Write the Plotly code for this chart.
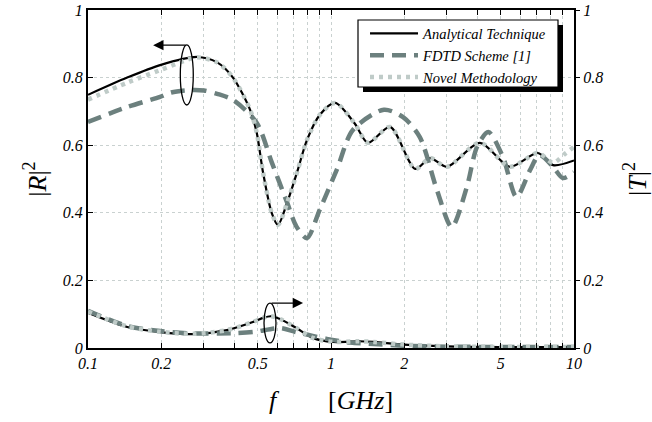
import math
import plotly.graph_objects as go

# ---------------- data ----------------
f_ana_R = [0.1, 0.145, 0.198, 0.281, 0.34, 0.395, 0.465, 0.495, 0.525, 0.57, 0.605, 0.66, 0.73, 0.796, 0.9, 1.04, 1.25, 1.42, 1.75, 2.22, 2.56, 3.0, 4.1, 5.45, 7.1, 8.2, 10.0]
R_ana = [0.749, 0.80, 0.837, 0.861, 0.845, 0.80, 0.704, 0.636, 0.52, 0.40, 0.364, 0.43, 0.527, 0.615, 0.69, 0.725, 0.665, 0.607, 0.654, 0.53, 0.562, 0.536, 0.607, 0.536, 0.577, 0.541, 0.555]

f_nov_R = [0.1, 0.145, 0.198, 0.25, 0.281, 0.34, 0.395, 0.465, 0.495, 0.525, 0.57, 0.605, 0.66, 0.73, 0.796, 0.9, 1.04, 1.25, 1.42, 1.75, 2.22, 2.56, 3.0, 4.1, 5.45, 7.1, 8.2, 9.2, 10.0]
R_nov = [0.735, 0.785, 0.822, 0.85, 0.86, 0.845, 0.80, 0.704, 0.636, 0.52, 0.40, 0.364, 0.43, 0.527, 0.615, 0.69, 0.725, 0.665, 0.607, 0.654, 0.53, 0.562, 0.536, 0.607, 0.536, 0.577, 0.548, 0.575, 0.595]

f_fdtd_R = [0.1, 0.145, 0.198, 0.22, 0.26, 0.3, 0.34, 0.395, 0.495, 0.57, 0.66, 0.72, 0.796, 0.9, 1.06, 1.23, 1.65, 1.98, 2.32, 2.73, 3.14, 3.62, 3.99, 4.44, 5.1, 5.8, 6.6, 7.2, 8.2, 9.0, 10.0]
R_fdtd = [0.669, 0.713, 0.743, 0.756, 0.763, 0.762, 0.752, 0.734, 0.666, 0.55, 0.43, 0.36, 0.325, 0.41, 0.53, 0.645, 0.705, 0.683, 0.624, 0.467, 0.358, 0.476, 0.595, 0.639, 0.565, 0.447, 0.527, 0.571, 0.536, 0.503, 0.52]

f_ana_T = [0.1, 0.145, 0.198, 0.27, 0.373, 0.477, 0.525, 0.565, 0.62, 0.72, 0.84, 1.02, 1.3, 1.5, 2.0, 3.0, 5.0, 10.0]
T_ana = [0.104, 0.062, 0.047, 0.041, 0.053, 0.077, 0.089, 0.094, 0.085, 0.059, 0.03, 0.018, 0.02, 0.018, 0.01, 0.005, 0.003, 0.003]
T_nov = [0.108, 0.064, 0.048, 0.042, 0.053, 0.077, 0.089, 0.094, 0.085, 0.059, 0.03, 0.018, 0.02, 0.018, 0.01, 0.005, 0.003, 0.003]

f_fdtd_T = [0.1, 0.145, 0.198, 0.27, 0.395, 0.485, 0.616, 0.71, 0.84, 0.96, 1.2, 1.5, 2.0, 3.0, 5.0, 10.0]
T_fdtd = [0.11, 0.065, 0.05, 0.043, 0.044, 0.048, 0.059, 0.048, 0.036, 0.027, 0.016, 0.012, 0.007, 0.004, 0.003, 0.003]

x_tickvals = [0.1, 0.2, 0.3, 0.4, 0.5, 0.6, 0.7, 0.8, 0.9, 1, 2, 3, 4, 5, 6, 7, 8, 9, 10]
x_ticktext = ["0.1", "0.2", "", "", "0.5", "", "", "", "", "1", "2", "", "", "5", "", "", "", "", "10"]
y_tickvals = [0, 0.2, 0.4, 0.6, 0.8, 1]
y_ticktext = ["0", "0.2", "0.4", "0.6", "0.8", "1"]

names = ["Analytical Technique", "FDTD Scheme [1]", "Novel Methodology"]

# ---------------- styles ----------------
FONT = "Liberation Serif"
C_ANA = "black"
C_FDTD = "#6c807e"
C_NOV = "#bfcbc8"
GRID = "#c9d1d0"

ana_line = dict(color=C_ANA, width=2.2, shape="spline", smoothing=0.8)
fdtd_line = dict(color=C_FDTD, width=4.5, dash="14px,8px", shape="spline", smoothing=0.8)
nov_line = dict(color=C_NOV, width=4.5, dash="4px,5px", shape="spline", smoothing=0.8)

fig = go.Figure()
fig.add_trace(go.Scatter(x=f_ana_R, y=R_ana, mode="lines", line=ana_line, name=names[0]))
fig.add_trace(go.Scatter(x=f_fdtd_R, y=R_fdtd, mode="lines", line=fdtd_line, name=names[1]))
fig.add_trace(go.Scatter(x=f_ana_T, y=T_ana, mode="lines", line=ana_line, showlegend=False, yaxis="y2"))
fig.add_trace(go.Scatter(x=f_fdtd_T, y=T_fdtd, mode="lines", line=fdtd_line, showlegend=False, yaxis="y2"))
fig.add_trace(go.Scatter(x=f_nov_R, y=R_nov, mode="lines", line=nov_line, name=names[2]))
fig.add_trace(go.Scatter(x=f_ana_T, y=T_nov, mode="lines", line=nov_line, showlegend=False, yaxis="y2"))

tickfont = dict(family=FONT, size=16, color="black", style="italic")
titlefont = dict(family=FONT, size=26, color="black")

fig.update_layout(
    width=652, height=422,
    margin=dict(l=88, r=78, t=10, b=74),
    paper_bgcolor="white", plot_bgcolor="white",
    showlegend=True,
    legend=dict(x=0.570, y=0.978, xanchor="left", yanchor="top",
                bgcolor="rgba(0,0,0,0)", borderwidth=0, itemwidth=48,
                font=dict(family=FONT, size=14.5, color="black", style="italic"),
                tracegroupgap=0),
    xaxis=dict(type="log", range=[-1, 1], tickvals=x_tickvals, ticktext=x_ticktext,
               tickangle=0,
               ticks="inside", ticklen=5, tickwidth=1.2, tickcolor="black",
               showline=True, linecolor="black", linewidth=2, mirror="ticks",
               showgrid=True, gridcolor=GRID, griddash="dot", gridwidth=1,
               tickfont=tickfont, zeroline=False, automargin=False,
               title=dict(text="<i>f</i>\u2003\u2003[<i>GHz</i>]", font=titlefont, standoff=20)),
    yaxis=dict(range=[0, 1], tickvals=y_tickvals, ticktext=y_ticktext,
               ticks="inside", ticklen=5, tickwidth=1.2, tickcolor="black",
               showline=True, linecolor="black", linewidth=2,
               showgrid=True, gridcolor=GRID, griddash="dot", gridwidth=1,
               tickfont=tickfont, zeroline=False, automargin=False,
               title=dict(text="|<i>R</i>|<sup>2</sup>", font=titlefont, standoff=9)),
    yaxis2=dict(range=[0, 1], tickvals=y_tickvals, ticktext=y_ticktext,
                overlaying="y", side="right",
                ticks="outside", ticklen=4, tickwidth=1.2, tickcolor="black",
                showline=True, linecolor="black", linewidth=2,
                showgrid=False, tickfont=tickfont, zeroline=False, automargin=False,
                title=dict(text="|<i>T</i>|<sup>2</sup>", font=titlefont, standoff=30)),
)

# legend box with drop shadow (paper coordinates)
px_w, px_h = 486.0, 338.0
bx0, bx1 = (358 - 88) / px_w, (558 - 88) / px_w
by1, by0 = (348 - 20) / px_h, (348 - 87) / px_h
dx, dy = 5 / px_w, 5 / px_h
fig.add_shape(type="rect", xref="paper", yref="paper",
              x0=bx0 + dx, x1=bx1 + dx, y0=by0 - dy, y1=by1 - dy,
              fillcolor="black", line=dict(width=0), layer="above")
fig.add_shape(type="rect", xref="paper", yref="paper",
              x0=bx0, x1=bx1, y0=by0, y1=by1,
              fillcolor="white", line=dict(color="black", width=1.2), layer="above")

# ellipses (log-axis shapes take data values)
ell = [(0.255, 0.808, 0.0267, 0.089), (0.561, 0.074, 0.0247, 0.059)]
for cx, cy, rx, ry in ell:
    lc = math.log10(cx)
    fig.add_shape(type="circle", xref="x", yref="y",
                  x0=10 ** (lc - rx), x1=10 ** (lc + rx), y0=cy - ry, y1=cy + ry,
                  line=dict(color="black", width=1.3), layer="above")
# arrows (annotations take log values)
fig.add_annotation(x=-0.732, y=0.896, xref="x", yref="y", ax=34, ay=0, text="",
                   showarrow=True, arrowhead=2, arrowsize=1.6, arrowwidth=1.3, arrowcolor="black")
fig.add_annotation(x=-0.115, y=0.133, xref="x", yref="y", ax=-33, ay=0, text="",
                   showarrow=True, arrowhead=2, arrowsize=1.6, arrowwidth=1.3, arrowcolor="black")

# remove the browser's default 8px body margin so the figure sits at the page origin
fig.write_html("out.html", config={"displayModeBar": False},
               post_script="document.body.style.margin='0';")
